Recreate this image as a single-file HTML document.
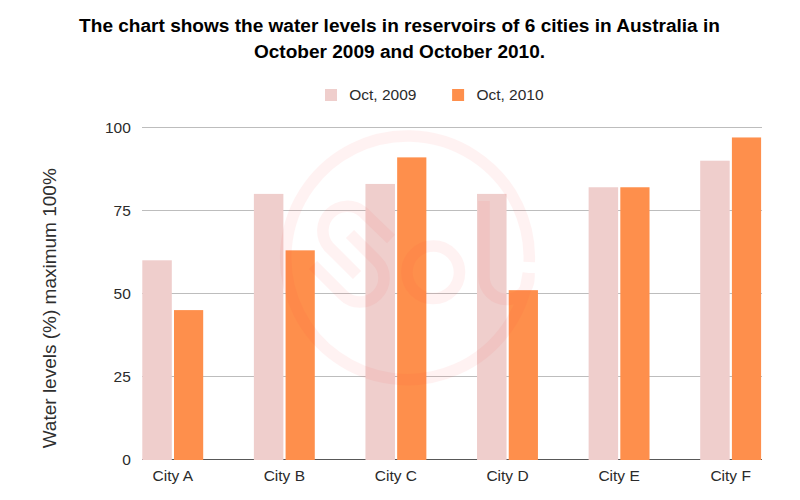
<!DOCTYPE html>
<html><head><meta charset="utf-8"><style>
html,body{margin:0;padding:0;background:#fff;width:800px;height:500px;overflow:hidden}
body{position:relative;font-family:"Liberation Sans",sans-serif}
.t{position:absolute;left:0;width:800px;text-align:center;font-weight:bold;font-size:19px;color:#000;white-space:nowrap}
svg{position:absolute;left:0;top:0}
</style></head><body>
<svg width="800" height="500" viewBox="0 0 800 500">
<line x1="142" y1="127.5" x2="762" y2="127.5" stroke="#bdbdbd" stroke-width="1"/><line x1="142" y1="210.5" x2="762" y2="210.5" stroke="#bdbdbd" stroke-width="1"/><line x1="142" y1="293.5" x2="762" y2="293.5" stroke="#bdbdbd" stroke-width="1"/><line x1="142" y1="376.5" x2="762" y2="376.5" stroke="#bdbdbd" stroke-width="1"/>
<line x1="142" y1="459.5" x2="762" y2="459.5" stroke="#585858" stroke-width="1"/>
<rect x="142.30" y="260.30" width="29.5" height="199.70" fill="#efcecc"/><rect x="174.00" y="310.10" width="29.2" height="149.90" fill="#fe8f4c"/><rect x="253.88" y="193.90" width="29.5" height="266.10" fill="#efcecc"/><rect x="285.58" y="250.34" width="29.2" height="209.66" fill="#fe8f4c"/><rect x="365.46" y="183.94" width="29.5" height="276.06" fill="#efcecc"/><rect x="397.16" y="157.38" width="29.2" height="302.62" fill="#fe8f4c"/><rect x="477.04" y="193.90" width="29.5" height="266.10" fill="#efcecc"/><rect x="508.74" y="290.18" width="29.2" height="169.82" fill="#fe8f4c"/><rect x="588.62" y="187.26" width="29.5" height="272.74" fill="#efcecc"/><rect x="620.32" y="187.26" width="29.2" height="272.74" fill="#fe8f4c"/><rect x="700.20" y="160.70" width="29.5" height="299.30" fill="#efcecc"/><rect x="731.90" y="137.46" width="29.2" height="322.54" fill="#fe8f4c"/>
<g opacity="0.058" fill="none" stroke="#ff3535" stroke-width="11.5" stroke-linecap="butt">
<path d="M 529.23 262 A 121.8 121.8 0 1 0 528.35 273"/>
<path d="M 391 239 L 363 212 A 24.5 24.5 0 0 0 328.5 246.5 L 357 275"/>
<path d="M 313 265 L 343 295 A 24 24 0 0 0 377 261 L 350 234"/>
<circle cx="433.2" cy="272.3" r="26.3"/>
<path d="M 484 201 L 484 277 A 22.5 22.5 0 0 0 529 277 L 529 273"/>
</g>
<g font-family="Liberation Sans" font-size="15.5" fill="#2b2b2b">
<text x="130.8" y="133.2" text-anchor="end">100</text><text x="130.8" y="216.2" text-anchor="end">75</text><text x="130.8" y="299.2" text-anchor="end">50</text><text x="130.8" y="382.2" text-anchor="end">25</text><text x="130.8" y="465.2" text-anchor="end">0</text>
<text x="172.75" y="481" text-anchor="middle">City A</text><text x="284.33" y="481" text-anchor="middle">City B</text><text x="395.91" y="481" text-anchor="middle">City C</text><text x="507.49" y="481" text-anchor="middle">City D</text><text x="619.07" y="481" text-anchor="middle">City E</text><text x="730.65" y="481" text-anchor="middle">City F</text>
<rect x="325" y="89" width="12" height="12" fill="#efcecc"/>
<text x="349.2" y="100">Oct, 2009</text>
<rect x="452.1" y="89" width="12" height="12" fill="#fe8f4c"/>
<text x="476.4" y="100">Oct, 2010</text>
</g>
<text transform="translate(56.2,308.3) rotate(-90)" text-anchor="middle" font-family="Liberation Sans" font-size="19" fill="#2e2e2e">Water levels (%) maximum 100%</text>
<g font-family="Liberation Sans" font-size="19.06" font-weight="bold" fill="#000" text-anchor="middle">
<text x="399.5" y="31.9">The chart shows the water levels in reservoirs of 6 cities in Australia in</text>
<text x="399.5" y="57.9">October 2009 and October 2010.</text>
</g>
</svg>
</body></html>
